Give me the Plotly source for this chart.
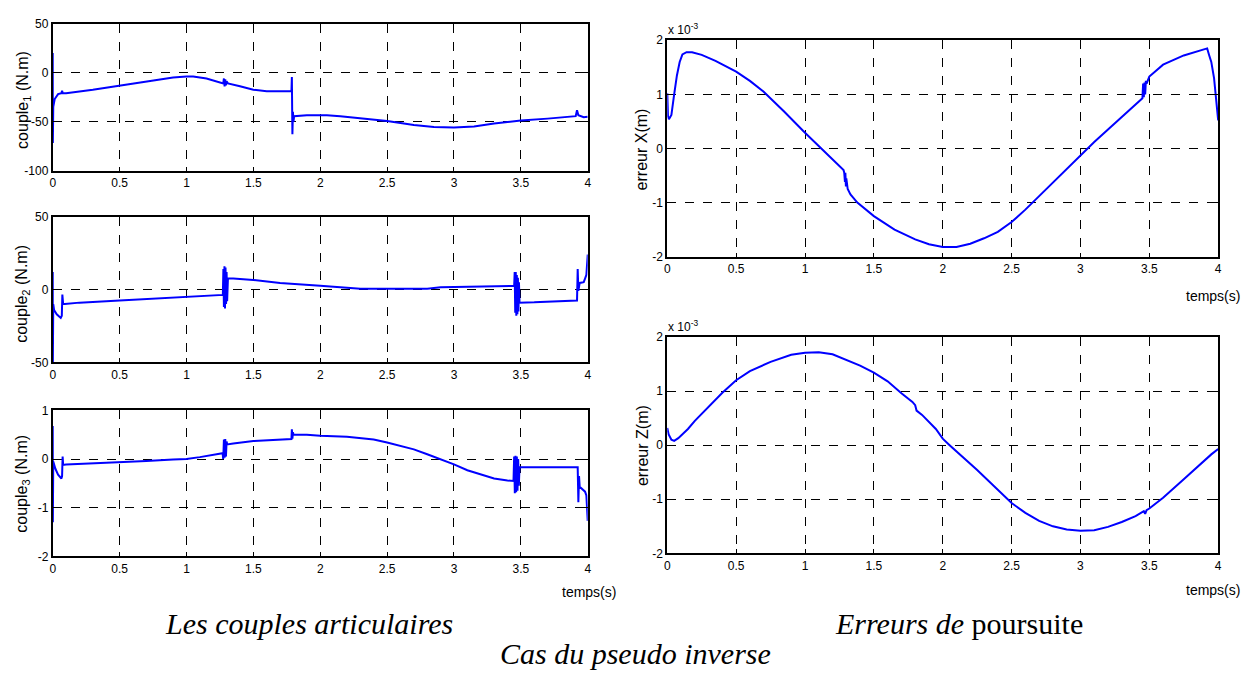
import plotly.graph_objects as go

# ---------------- data ----------------
t_c1 = [0, 0.001, 0.004, 0.015, 0.04, 0.065, 0.07, 0.075, 0.1, 0.3, 0.5, 0.7, 0.9, 1.0, 1.05, 1.15,
        1.25, 1.275, 1.28, 1.285, 1.29, 1.295, 1.30, 1.31, 1.4, 1.5, 1.6, 1.785, 1.788, 1.792, 1.796,
        1.80, 1.805, 1.9, 2.05, 2.15, 2.3, 2.5, 2.7, 2.85, 3.0, 3.15, 3.3, 3.5, 3.7, 3.85, 3.91,
        3.92, 3.93, 3.97, 4.0]
couple1 = [20, -72, -35, -27, -22, -21, -18.5, -21, -21, -17.5, -13.5, -9.5, -5, -4, -4, -6,
           -9.5, -11, -6, -14, -7, -13, -9, -11, -14, -17.5, -19, -19, -4.5, -63, -40,
           -50, -44.5, -43.5, -43.5, -44.5, -46.5, -49.5, -53.5, -55.5, -56, -55, -52, -49, -47, -45, -44.5,
           -38.5, -43.5, -45.5, -45]

t_c2 = [0, 0.001, 0.004, 0.01, 0.03, 0.06, 0.068, 0.072, 0.078, 0.09, 0.2, 0.5, 0.8, 1.0, 1.2, 1.272,
        1.276, 1.28, 1.284, 1.288, 1.292, 1.296, 1.30, 1.304, 1.31, 1.35, 1.5, 1.7, 2.0, 2.2, 2.3, 2.5,
        2.8, 2.9, 3.2, 3.45, 3.454, 3.458, 3.462, 3.466, 3.47, 3.474, 3.478, 3.482, 3.486, 3.49, 3.6,
        3.8, 3.92, 3.925, 3.93, 3.94, 3.97, 3.98, 3.99, 4.0]
couple2 = [12, -50, -10, -14, -17, -19.5, -18, -3.5, -10, -10, -9, -7.5, -6, -5, -4.5, -3.7,
           14, -12, 16, -13, 15, -10, 12, -8, 7.5, 7.5, 6.5, 4.5, 2.5, 1, 0.5, 0.5,
           0.5, 1.5, 2, 2.5, 12, -16, 12, -18, 10, -17, 8, -15, 5, -9, -8.8,
           -8.2, -7.5, 14, -1, 4.5, 5, 7.5, 10, 24]

t_c3 = [0, 0.001, 0.004, 0.02, 0.04, 0.065, 0.07, 0.074, 0.078, 0.1, 0.3, 0.5, 0.7, 0.9, 1.0, 1.1,
        1.2, 1.27, 1.275, 1.28, 1.285, 1.29, 1.295, 1.30, 1.305, 1.35, 1.5, 1.6, 1.785, 1.788, 1.792,
        1.796, 1.80, 1.9, 2.0, 2.2, 2.4, 2.5, 2.6, 2.7, 2.8, 2.9, 3.0, 3.1, 3.2, 3.3, 3.4, 3.445,
        3.45, 3.455, 3.46, 3.465, 3.47, 3.475, 3.48, 3.485, 3.49, 3.6, 3.925, 3.93, 3.935, 3.94, 3.98,
        3.99, 4.0]
couple3 = [0.68, -1.3, -0.05, -0.2, -0.32, -0.4, -0.35, 0.05, -0.12, -0.11, -0.09, -0.07, -0.04, -0.01, 0.0, 0.04,
           0.08, 0.12, 0.0, 0.4, 0.03, 0.41, 0.05, 0.36, 0.3, 0.32, 0.37, 0.38, 0.41, 0.61, 0.42,
           0.55, 0.5, 0.5, 0.48, 0.46, 0.4, 0.34, 0.27, 0.2, 0.1, 0.0, -0.11, -0.23, -0.32, -0.4, -0.44, -0.45,
           0.05, -0.7, 0.07, -0.68, 0.05, -0.65, 0.0, -0.55, -0.17, -0.17, -0.17, -0.89, -0.35, -0.57, -0.67,
           -0.75, -1.27]

t_ex = [0, 0.005, 0.012, 0.03, 0.05, 0.07, 0.09, 0.11, 0.14, 0.18, 0.25, 0.35, 0.5, 0.6, 0.7, 0.85, 1.0,
        1.12, 1.2, 1.28, 1.285, 1.29, 1.293, 1.297, 1.30, 1.31, 1.33, 1.38, 1.5, 1.65, 1.8, 1.9, 2.0,
        2.1, 2.2, 2.3, 2.4, 2.5, 2.6, 2.7, 2.8, 2.9, 3.0, 3.1, 3.2, 3.35, 3.45, 3.455, 3.46, 3.465,
        3.47, 3.475, 3.48, 3.5, 3.6, 3.75, 3.88, 3.92, 3.935, 3.95, 3.97, 3.99, 4.0]
erreur_x = [1.02, 0.6, 0.54, 0.62, 1.0, 1.35, 1.6, 1.74, 1.78, 1.78, 1.73, 1.62, 1.42, 1.25, 1.05, 0.68, 0.29,
            0.0, -0.2, -0.40, -0.45, -0.62, -0.45, -0.7, -0.55, -0.75, -0.85, -1.0, -1.25, -1.5, -1.68, -1.77, -1.82,
            -1.82, -1.76, -1.66, -1.54, -1.36, -1.13, -0.88, -0.63, -0.38, -0.13, 0.12, 0.35, 0.7, 0.93, 1.2, 0.95,
            1.22, 1.0, 1.25, 1.2, 1.33, 1.55, 1.72, 1.82, 1.85, 1.72, 1.6, 1.3, 0.85, 0.52]

t_ez = [0, 0.01, 0.03, 0.05, 0.08, 0.15, 0.2, 0.3, 0.4, 0.5, 0.6, 0.75, 0.9, 1.0, 1.1, 1.2, 1.3,
        1.4, 1.5, 1.6, 1.7, 1.78, 1.8, 1.81, 1.85, 1.95, 2.0, 2.05, 2.25, 2.5, 2.6, 2.7, 2.8, 2.9,
        3.0, 3.1, 3.2, 3.3, 3.4, 3.46, 3.47, 3.48, 3.5, 3.6, 3.75, 3.9, 3.95, 4.0]
erreur_z = [0.32, 0.2, 0.1, 0.08, 0.13, 0.3, 0.45, 0.72, 0.97, 1.2, 1.37, 1.54, 1.67, 1.71, 1.72, 1.68, 1.58,
            1.47, 1.34, 1.18, 0.96, 0.8, 0.74, 0.64, 0.56, 0.3, 0.12, 0.0, -0.46, -1.07, -1.25, -1.4, -1.5, -1.56,
            -1.58, -1.57, -1.51, -1.42, -1.31, -1.22, -1.27, -1.2, -1.17, -0.97, -0.63, -0.28, -0.17, -0.07]

x_ticks = [0, 0.5, 1, 1.5, 2, 2.5, 3, 3.5, 4]
x_ticktext = ["0", "0.5", "1", "1.5", "2", "2.5", "3", "3.5", "4"]

# ---------------- figure ----------------
W, H = 1255, 673
BLUE = "#0000ff"
fig = go.Figure()

series = [(t_c1, couple1), (t_c2, couple2), (t_c3, couple3), (t_ex, erreur_x), (t_ez, erreur_z)]
for i, (tt, vv) in enumerate(series, start=1):
    fig.add_trace(go.Scatter(x=tt, y=vv, mode="lines", line=dict(color=BLUE, width=2),
                             xaxis="x" if i == 1 else f"x{i}", yaxis="y" if i == 1 else f"y{i}",
                             showlegend=False, hoverinfo="skip"))

def px_x(a, b):
    return [a / W, b / W]

def px_y(top, bottom):
    return [1 - bottom / H, 1 - top / H]

tickfont = dict(family="Liberation Sans, Arial, sans-serif", size=12, color="black")
common = dict(showline=True, linecolor="black", linewidth=2, mirror="ticks", ticks="inside",
              ticklen=4, tickcolor="black", tickwidth=1, showgrid=True, gridcolor="black",
              gridwidth=1, griddash="dash", zeroline=False, tickfont=tickfont, fixedrange=True)

panels = [
    # (x domain px, y domain px, y range, y ticks)
    ((50, 588), (17, 167), [-100, 50], [-100, -50, 0, 50]),
    ((50, 588), (214, 363), [-50, 50], [-50, 0, 50]),
    ((50, 588), (412, 561), [-2, 1], [-2, -1, 0, 1]),
    ((668, 1222), (34, 255), [-2, 2], [-2, -1, 0, 1, 2]),
    ((668, 1222), (337, 558), [-2, 2], [-2, -1, 0, 1, 2]),
]
layout = {}
for i, (xd, yd, yr, yt) in enumerate(panels, start=1):
    xn = "xaxis" if i == 1 else f"xaxis{i}"
    yn = "yaxis" if i == 1 else f"yaxis{i}"
    layout[xn] = dict(common, domain=px_x(*xd), range=[0, 4], tickvals=x_ticks, ticktext=x_ticktext,
                      anchor="y" if i == 1 else f"y{i}")
    layout[yn] = dict(common, domain=px_y(*yd), range=yr, tickvals=yt, ticktext=[str(v) for v in yt],
                      anchor="x" if i == 1 else f"x{i}")

fig.update_layout(**layout)

ann = []
lab = dict(family="Liberation Sans, Arial, sans-serif", size=16, color="black")
ytitles = [("couple<sub>1</sub> (N.m)", 20, 95), ("couple<sub>2</sub> (N.m)", 20, 293),
           ("couple<sub>3</sub> (N.m)", 20, 487), ("erreur X(m)", 643, 145), ("erreur Z(m)", 643, 448)]
for txt, x, y in ytitles:
    ann.append(dict(text=txt, x=x / W, y=1 - y / H, xref="paper", yref="paper", showarrow=False,
                    textangle=-90, font=lab, xanchor="center", yanchor="middle"))

small = dict(family="Liberation Sans, Arial, sans-serif", size=12, color="black")
for y in (22, 326):
    ann.append(dict(text="x 10<sup>-3</sup>", x=667 / W, y=1 - y / H, xref="paper", yref="paper",
                    showarrow=False, font=small, xanchor="left", yanchor="middle"))

tfont = dict(family="Liberation Sans, Arial, sans-serif", size=14, color="black")
for x, y in ((589, 597), (1217, 295), (1217, 595)):
    ann.append(dict(text="temps(s)", x=x / W, y=1 - y / H, xref="paper", yref="paper",
                    showarrow=False, font=tfont, xanchor="center", yanchor="middle"))

cfont = dict(family="Liberation Serif, Times New Roman, serif", size=30, color="black")
captions = [("<i>Les couples articulaires</i>", 308, 630), ("<i>Erreurs de</i> poursuite", 961, 630),
            ("<i>Cas du pseudo inverse</i>", 636, 660)]
for txt, x, y in captions:
    ann.append(dict(text=txt, x=x / W, y=1 - y / H, xref="paper", yref="paper", showarrow=False,
                    font=cfont, xanchor="center", yanchor="middle"))

fig.update_layout(annotations=ann, width=W, height=H, margin=dict(l=0, r=0, t=0, b=0),
                  paper_bgcolor="white", plot_bgcolor="white")

fig.write_html("out.html", config={"displayModeBar": False})
